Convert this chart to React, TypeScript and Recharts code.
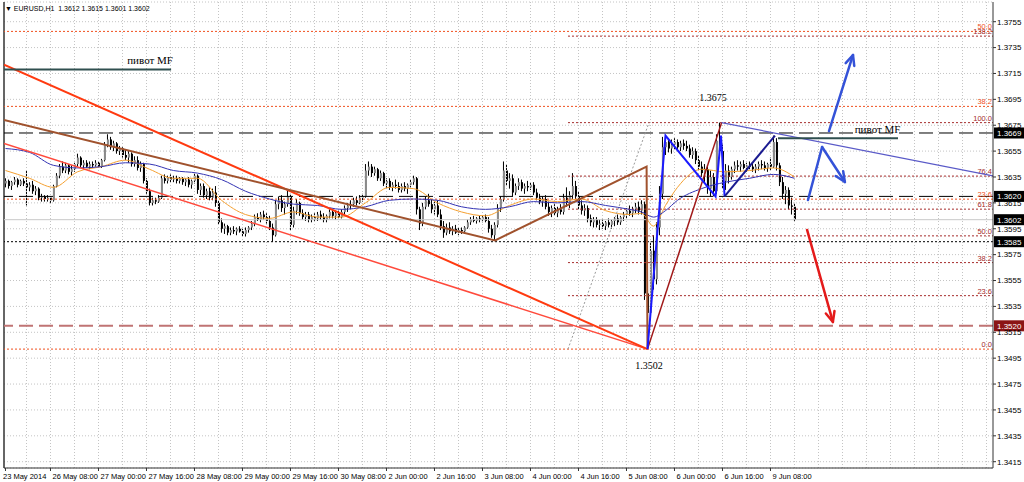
import {
  ComposedChart,
  Bar,
  Line,
  XAxis,
  YAxis,
  CartesianGrid,
  ReferenceLine,
  ReferenceDot,
} from "recharts";

// quotes are written as the last four digits, 3612 -> 1.3612
const P = (v: number) => 1 + v / 10000;

const opens = [
  3630, 3632, 3628, 3631, 3633, 3629, 3632, 3630, 3627, 3629,
  3624, 3626, 3619, 3620, 3618, 3619, 3617, 3628, 3636, 3643,
  3640, 3644, 3639, 3641, 3645, 3650, 3644, 3646, 3643, 3645,
  3644, 3646, 3643, 3648, 3660, 3664, 3658, 3661, 3655, 3657,
  3652, 3650, 3653, 3645, 3648, 3642, 3645, 3632, 3624, 3615,
  3617, 3616, 3619, 3634, 3632, 3635, 3633, 3634, 3632, 3634,
  3631, 3633, 3629, 3632, 3636, 3625, 3628, 3621, 3624, 3619,
  3623, 3615, 3600, 3595, 3597, 3592, 3594, 3593, 3595, 3593,
  3591, 3594, 3596, 3599, 3604, 3602, 3606, 3604, 3601, 3596,
  3590, 3614, 3617, 3611, 3614, 3620, 3598, 3609, 3615, 3607,
  3604, 3606, 3602, 3604, 3603, 3606, 3604, 3602, 3605, 3608,
  3605, 3607, 3604, 3608, 3611, 3613, 3614, 3617, 3615, 3619,
  3620, 3640, 3643, 3638, 3641, 3634, 3638, 3630, 3632, 3627,
  3629, 3628, 3625, 3628, 3626, 3629, 3631, 3634, 3610, 3599,
  3612, 3617, 3614, 3610, 3613, 3606, 3597, 3592, 3596, 3593,
  3595, 3592, 3594, 3593, 3596, 3600, 3602, 3601, 3603, 3602,
  3604, 3601, 3595, 3590, 3598, 3611, 3618, 3640, 3632, 3634,
  3623, 3628, 3631, 3626, 3628, 3627, 3629, 3623, 3619, 3616,
  3618, 3612, 3608, 3611, 3607, 3610, 3608, 3619, 3615, 3621,
  3628, 3620, 3613, 3609, 3611, 3603, 3600, 3602, 3598, 3599,
  3597, 3600, 3598, 3601, 3603, 3600, 3604, 3606, 3609, 3607,
  3610, 3612, 3609, 3614, 3545, 3530, 3578, 3556, 3596, 3622,
  3658, 3662, 3657, 3660, 3662, 3658, 3661, 3659, 3657, 3652,
  3655, 3648, 3643, 3638, 3641, 3626, 3635, 3624, 3663, 3655,
  3632, 3640, 3635, 3641, 3644, 3643, 3645, 3642, 3644, 3643,
  3641, 3643, 3645, 3644, 3642, 3645, 3643, 3662, 3644, 3631,
  3622, 3625, 3613, 3612,
];

const highs = [
  3634, 3633, 3632, 3635, 3634, 3633, 3634, 3640, 3631, 3632,
  3628, 3627, 3622, 3621, 3621, 3620, 3629, 3638, 3645, 3647,
  3646, 3645, 3644, 3646, 3653, 3651, 3648, 3648, 3647, 3647,
  3648, 3647, 3649, 3662, 3668, 3666, 3663, 3662, 3659, 3658,
  3656, 3655, 3654, 3651, 3651, 3647, 3646, 3634, 3626, 3619,
  3619, 3621, 3636, 3637, 3636, 3637, 3636, 3636, 3635, 3635,
  3634, 3635, 3633, 3638, 3637, 3630, 3630, 3626, 3627, 3626,
  3628, 3617, 3603, 3599, 3598, 3596, 3597, 3596, 3597, 3595,
  3596, 3597, 3601, 3606, 3607, 3608, 3609, 3607, 3605, 3599,
  3617, 3620, 3621, 3616, 3625, 3622, 3612, 3618, 3616, 3610,
  3608, 3608, 3606, 3607, 3608, 3609, 3607, 3606, 3610, 3610,
  3609, 3609, 3610, 3613, 3615, 3617, 3619, 3620, 3621, 3622,
  3645, 3647, 3645, 3643, 3642, 3640, 3639, 3634, 3634, 3631,
  3633, 3631, 3630, 3631, 3630, 3633, 3636, 3635, 3612, 3615,
  3620, 3622, 3618, 3616, 3617, 3610, 3601, 3599, 3600, 3597,
  3598, 3596, 3596, 3597, 3602, 3604, 3605, 3604, 3605, 3605,
  3606, 3604, 3598, 3600, 3614, 3620, 3647, 3645, 3638, 3637,
  3630, 3634, 3633, 3630, 3632, 3631, 3631, 3626, 3622, 3620,
  3621, 3616, 3613, 3614, 3612, 3614, 3622, 3627, 3624, 3638,
  3632, 3624, 3617, 3614, 3613, 3606, 3604, 3604, 3602, 3603,
  3601, 3603, 3602, 3604, 3606, 3605, 3608, 3611, 3613, 3612,
  3615, 3616, 3617, 3616, 3560, 3585, 3590, 3600, 3628, 3666,
  3667, 3665, 3664, 3665, 3664, 3663, 3664, 3663, 3660, 3658,
  3657, 3652, 3647, 3645, 3643, 3640, 3638, 3668, 3677, 3660,
  3645, 3644, 3643, 3647, 3648, 3647, 3648, 3646, 3647, 3646,
  3645, 3647, 3648, 3647, 3646, 3650, 3667, 3665, 3646, 3635,
  3628, 3627, 3619, 3615,
];

const lows = [
  3627, 3626, 3625, 3629, 3627, 3628, 3628, 3613, 3624, 3622,
  3621, 3617, 3616, 3616, 3616, 3615, 3616, 3627, 3634, 3638,
  3638, 3637, 3636, 3639, 3643, 3642, 3641, 3642, 3641, 3642,
  3643, 3642, 3642, 3647, 3658, 3656, 3655, 3653, 3652, 3650,
  3648, 3646, 3643, 3643, 3640, 3639, 3630, 3622, 3613, 3613,
  3614, 3615, 3618, 3630, 3630, 3631, 3631, 3630, 3630, 3629,
  3628, 3627, 3626, 3630, 3622, 3621, 3619, 3618, 3617, 3617,
  3612, 3598, 3592, 3591, 3590, 3590, 3591, 3590, 3592, 3589,
  3589, 3592, 3594, 3597, 3601, 3600, 3602, 3599, 3594, 3585,
  3589, 3610, 3608, 3606, 3612, 3594, 3596, 3606, 3605, 3602,
  3601, 3600, 3600, 3601, 3601, 3602, 3600, 3600, 3603, 3603,
  3602, 3603, 3603, 3606, 3608, 3610, 3612, 3613, 3614, 3616,
  3619, 3636, 3635, 3636, 3632, 3632, 3628, 3626, 3625, 3624,
  3626, 3623, 3623, 3624, 3622, 3627, 3629, 3606, 3594, 3597,
  3610, 3612, 3607, 3606, 3604, 3594, 3588, 3590, 3591, 3590,
  3591, 3590, 3591, 3591, 3595, 3598, 3600, 3599, 3600, 3600,
  3600, 3592, 3588, 3586, 3596, 3608, 3616, 3628, 3626, 3620,
  3621, 3625, 3624, 3622, 3624, 3625, 3621, 3617, 3614, 3612,
  3610, 3605, 3604, 3605, 3604, 3606, 3606, 3612, 3611, 3618,
  3618, 3610, 3606, 3605, 3600, 3597, 3596, 3596, 3594, 3595,
  3594, 3596, 3595, 3597, 3598, 3598, 3601, 3603, 3605, 3604,
  3607, 3606, 3606, 3540, 3502, 3526, 3548, 3552, 3590, 3618,
  3652, 3654, 3653, 3656, 3655, 3655, 3656, 3655, 3650, 3649,
  3645, 3640, 3635, 3630, 3622, 3620, 3620, 3622, 3650, 3626,
  3625, 3630, 3633, 3638, 3640, 3639, 3641, 3639, 3641, 3639,
  3638, 3640, 3641, 3640, 3639, 3640, 3642, 3640, 3628, 3618,
  3614, 3610, 3606, 3601,
];

const closes = [
  3632, 3628, 3631, 3633, 3629, 3632, 3630, 3627, 3629, 3624,
  3626, 3619, 3620, 3618, 3619, 3617, 3628, 3636, 3643, 3640,
  3644, 3639, 3641, 3645, 3650, 3644, 3646, 3643, 3645, 3644,
  3646, 3643, 3648, 3660, 3664, 3658, 3661, 3655, 3657, 3652,
  3650, 3653, 3645, 3648, 3642, 3645, 3632, 3624, 3615, 3617,
  3616, 3619, 3634, 3632, 3635, 3633, 3634, 3632, 3634, 3631,
  3633, 3629, 3632, 3636, 3625, 3628, 3621, 3624, 3619, 3623,
  3615, 3600, 3595, 3597, 3592, 3594, 3593, 3595, 3593, 3591,
  3594, 3596, 3599, 3604, 3602, 3606, 3604, 3601, 3596, 3590,
  3614, 3617, 3611, 3614, 3620, 3598, 3609, 3615, 3607, 3604,
  3606, 3602, 3604, 3603, 3606, 3604, 3602, 3605, 3608, 3605,
  3607, 3604, 3608, 3611, 3613, 3614, 3617, 3615, 3619, 3620,
  3640, 3643, 3638, 3641, 3634, 3638, 3630, 3632, 3627, 3629,
  3628, 3625, 3628, 3626, 3629, 3631, 3634, 3610, 3599, 3612,
  3617, 3614, 3610, 3613, 3606, 3597, 3592, 3596, 3593, 3595,
  3592, 3594, 3593, 3596, 3600, 3602, 3601, 3603, 3602, 3604,
  3601, 3595, 3590, 3598, 3611, 3618, 3640, 3632, 3634, 3623,
  3628, 3631, 3626, 3628, 3627, 3629, 3623, 3619, 3616, 3618,
  3612, 3608, 3611, 3607, 3610, 3608, 3619, 3615, 3621, 3628,
  3620, 3613, 3609, 3611, 3603, 3600, 3602, 3598, 3599, 3597,
  3600, 3598, 3601, 3603, 3600, 3604, 3606, 3609, 3607, 3610,
  3612, 3609, 3614, 3545, 3530, 3578, 3556, 3596, 3622, 3658,
  3662, 3657, 3660, 3662, 3658, 3661, 3659, 3657, 3652, 3655,
  3648, 3643, 3638, 3641, 3626, 3635, 3624, 3663, 3655, 3632,
  3640, 3635, 3641, 3644, 3643, 3645, 3642, 3644, 3643, 3641,
  3643, 3645, 3644, 3642, 3645, 3643, 3662, 3644, 3631, 3622,
  3625, 3613, 3612, 3602,
];

// moving averages at these bars
const maBars = [0, 8, 16, 24, 32, 40, 48, 56, 64, 72, 80, 88, 96, 104, 112, 120, 128, 136, 144, 152, 160, 168, 176, 184, 192, 200, 208, 212, 216, 220, 224, 232, 240, 248, 256, 263];
const maFast = [3640, 3634, 3627, 3639, 3643, 3648, 3641, 3634, 3634, 3617, 3606, 3603, 3608, 3604, 3604, 3615, 3627, 3626, 3615, 3608, 3605, 3613, 3618, 3616, 3618, 3609, 3606, 3607, 3597, 3613, 3627, 3641, 3639, 3640, 3642, 3635];
const maSlow = [3657, 3654, 3644, 3642, 3643, 3646, 3645, 3640, 3638, 3633, 3624, 3618, 3614, 3613, 3610, 3612, 3617, 3618, 3617, 3612, 3610, 3612, 3616, 3615, 3616, 3613, 3610, 3608, 3604, 3609, 3617, 3626, 3631, 3634, 3637, 3634];

const xTickBars = [0, 15, 31, 47, 63, 79, 95, 111, 127, 143, 159, 175, 191, 207, 223, 239, 255];
const xTickLabels = [
  "23 May 2014", "26 May 08:00", "27 May 00:00", "27 May 16:00", "28 May 08:00",
  "29 May 00:00", "29 May 16:00", "30 May 08:00", "2 Jun 00:00", "2 Jun 16:00",
  "3 Jun 08:00", "4 Jun 00:00", "4 Jun 16:00", "5 Jun 08:00", "6 Jun 00:00",
  "6 Jun 16:00", "9 Jun 08:00",
];
const yTicks = [
  1.3415, 1.3435, 1.3455, 1.3475, 1.3495, 1.3515, 1.3535, 1.3555, 1.3575,
  1.3595, 1.3615, 1.3635, 1.3655, 1.3675, 1.3695, 1.3715, 1.3735, 1.3755,
];

// fibo grids: swing low / swing high and levels
const fibALow = 1.3502;
const fibAHigh = 1.3993;
const fibALevels = [0, 23.6, 38.2, 50];
const fibBLow = 1.3502;
const fibBHigh = 1.3677;
const fibBLevels = [23.6, 38.2, 50, 61.8, 76.4, 100, 138.2];
const fibBStart = 187.5;

// drawn objects, [bar, price]
const redThick = [[-0.5, 1.37218], [214, 1.3502]];
const redThin = [[-0.5, 1.3661], [214, 1.3502]];
const brownPath = [[-0.5, 1.3679], [163.2, 1.3586], [213.7, 1.3643], [214, 1.3503]];
const maroonLeg = [[214, 1.3502], [238.7, 1.3677]];
const bluePath = [[214, 1.3502], [220, 1.3667], [236.7, 1.362], [238.5, 1.3667], [239.7, 1.362]];
const navyLeg = [[239.7, 1.362], [256.5, 1.3667]];
const slateLine = [[238.7, 1.3677], [329.17, 1.36358]];
const fibTrend = [[fibBStart, 1.3502], [214.5, 1.3677]];
const pivotLeft = [[-0.5, 1.3718], [55.2, 1.3718]];
const pivotRight = [[257.5, 1.3665], [297.5, 1.3665]];
const blueArrowUp = [[274.5, 1.36705], [282.5, 1.37293]];
const blueArrowBounce = [[267.5, 1.36172], [272.2, 1.36582], [279.8, 1.36311]];
const redArrowDown = [[267.2, 1.35941], [275.8, 1.3523]];

const priceBoxes = [
  { v: 1.3669, bg: "#000000" },
  { v: 1.362, bg: "#000000" },
  { v: 1.3602, bg: "#000000" },
  { v: 1.3585, bg: "#000000" },
  { v: 1.352, bg: "#8b1414" },
];

const X_MIN = -0.5;
const X_MAX = 329.17;
const FONT = '"Liberation Sans", Arial, sans-serif';
const SERIF = '"Liberation Serif", "Times New Roman", serif';

const candles = opens.map((o, i) => ({
  i,
  o: P(o),
  h: P(highs[i]),
  l: P(lows[i]),
  c: P(closes[i]),
  range: [P(lows[i]), P(highs[i])],
}));

const toPts = (arr: number[][]) => arr.map(([i, v]) => ({ i, v }));
const maFastPts = maBars.map((i, k) => ({ i, v: P(maFast[k]) }));
const maSlowPts = maBars.map((i, k) => ({ i, v: P(maSlow[k]) }));
const gridBars = Array.from({ length: 41 }, (_, k) => 7 + 8 * k);

function Candle(props: any) {
  const { x, y, width, height, payload } = props;
  if (x == null || !payload) return null;
  const { o, h, l, c } = payload;
  const k = h > l ? height / (h - l) : 0;
  const cx = x + width / 2;
  const yO = y + (h - o) * k;
  const yC = y + (h - c) * k;
  const top = Math.min(yO, yC);
  const bh = Math.max(1, Math.abs(yC - yO));
  return (
    <g>
      <rect x={cx - 0.5} y={y} width={1} height={Math.max(1, height)} fill="#000" />
      <rect x={cx - 0.5} y={top} width={2} height={bh} fill={c >= o ? "#8a8a8a" : "#000"} />
    </g>
  );
}

function XTick(props: any) {
  const { x, y, payload } = props;
  const k = xTickBars.indexOf(payload.value);
  return (
    <text x={k === 0 ? x - 2.5 : x + 2} y={y + 6} fontSize={7.5} fill="#000" fontFamily={FONT}>
      {xTickLabels[k]}
    </text>
  );
}

const fibLabel = (text: string, color: string) => (p: any) => {
  const vb = p.viewBox;
  return (
    <text x={vb.x + vb.width - 1} y={vb.y - 2} textAnchor="end" fontSize={7.5} fill={color} fontFamily={FONT}>
      {text}
    </text>
  );
};

const boxLabel = (v: number, bg: string) => (p: any) => {
  const vb = p.viewBox;
  const x0 = vb.x + vb.width + 1;
  return (
    <g>
      <rect x={x0} y={vb.y - 5.5} width={30} height={11} fill={bg} />
      <text x={x0 + 3} y={vb.y + 3} fontSize={8} fill="#fff" fontFamily={FONT}>
        {v.toFixed(4)}
      </text>
    </g>
  );
};

const textLabel = (text: string, size: number) => (p: any) => {
  const vb = p.viewBox;
  return (
    <text x={vb.x + vb.width / 2} y={vb.y + vb.height / 2 + size * 0.35} textAnchor="middle" fontSize={size} fill="#000" fontFamily={SERIF}>
      {text}
    </text>
  );
};

const arrowShape = (color: string, head: boolean) => (p: any) => {
  const { x1, y1, x2, y2 } = p;
  if (x1 == null) return null;
  const a = Math.atan2(y2 - y1, x2 - x1);
  const L = 11;
  const s = 0.42;
  const ax = x2 - L * Math.cos(a - s);
  const ay = y2 - L * Math.sin(a - s);
  const bx = x2 - L * Math.cos(a + s);
  const by = y2 - L * Math.sin(a + s);
  return (
    <g>
      <line x1={x1} y1={y1} x2={x2} y2={y2} stroke={color} strokeWidth={2.5} strokeLinecap="round" />
      {head && (
        <polyline
          points={`${ax},${ay} ${x2},${y2} ${bx},${by}`}
          fill="none"
          stroke={color}
          strokeWidth={2.5}
          strokeLinecap="round"
          strokeLinejoin="round"
        />
      )}
    </g>
  );
};

const arrowSegments = (pts: number[][], color: string, key: string) =>
  pts.slice(1).map((pt, k) => (
    <ReferenceLine
      key={`${key}${k}`}
      segment={[
        { x: pts[k][0], y: pts[k][1] },
        { x: pt[0], y: pt[1] },
      ]}
      shape={arrowShape(color, k === pts.length - 2)}
    />
  ));

const trend = (pts: number[][], color: string, width: number, dash?: string) => (
  <Line
    data={toPts(pts)}
    dataKey="v"
    type="linear"
    stroke={color}
    strokeWidth={width}
    strokeDasharray={dash}
    dot={false}
    activeDot={false}
    isAnimationActive={false}
  />
);

export default function App() {
  return (
    <div style={{ position: "fixed", left: 0, top: 0, width: 1024, height: 482, background: "#fff" }}>
      <ComposedChart
        width={1024}
        height={482}
        data={candles}
        margin={{ top: 2, right: 0, bottom: 0, left: 4 }}
        style={{ fontFamily: FONT }}
      >
        <CartesianGrid vertical={false} stroke="#c4c4c4" strokeDasharray="1 2" />
        {gridBars.map((g) => (
          <ReferenceLine key={`g${g}`} x={g} stroke="#c4c4c4" strokeDasharray="1 2" />
        ))}
        <XAxis
          dataKey="i"
          type="number"
          domain={[X_MIN, X_MAX]}
          allowDataOverflow
          ticks={xTickBars}
          tick={<XTick />}
          tickSize={3}
          height={14}
          axisLine={{ stroke: "#333" }}
          tickLine={{ stroke: "#333" }}
        />
        <YAxis
          orientation="right"
          type="number"
          domain={[1.341013, 1.377022]}
          allowDataOverflow
          ticks={yTicks}
          tickFormatter={(v: number) => v.toFixed(4)}
          tick={{ fontSize: 8, fill: "#000", fontFamily: FONT }}
          tickSize={3}
          tickMargin={1}
          width={31}
          axisLine={{ stroke: "#333" }}
          tickLine={{ stroke: "#333" }}
        />
        <ReferenceLine x={X_MIN} stroke="#333" strokeWidth={1.5} />

        {/* horizontal levels */}
        <ReferenceLine y={1.3602} stroke="#c8c8c8" />
        <ReferenceLine y={1.3669} stroke="#000" strokeDasharray="14 6" />
        <ReferenceLine y={1.362} stroke="#000" strokeDasharray="14 6" />
        <ReferenceLine y={1.3585} stroke="#000" strokeDasharray="2 2" />
        <ReferenceLine y={1.352} stroke="#c07474" strokeWidth={2} strokeDasharray="14 6" />

        {/* fibo A, full width */}
        {fibALevels.map((lv) => (
          <ReferenceLine
            key={`fa${lv}`}
            y={fibALow + ((fibAHigh - fibALow) * lv) / 100}
            stroke="#f0501e"
            strokeDasharray="2 2"
            label={fibLabel(lv.toFixed(1), lv === 0 ? "#a02828" : "#f0501e")}
          />
        ))}
        {/* fibo B, from anchor to the right */}
        {fibBLevels.map((lv) => {
          const y = fibBLow + ((fibBHigh - fibBLow) * lv) / 100;
          return (
            <ReferenceLine
              key={`fb${lv}`}
              segment={[
                { x: fibBStart, y },
                { x: X_MAX, y },
              ]}
              stroke="#a52a2a"
              strokeDasharray="2 2"
              label={fibLabel(lv.toFixed(1), "#a52a2a")}
            />
          );
        })}

        <Bar dataKey="range" barSize={3} shape={Candle} isAnimationActive={false} />

        <Line data={maFastPts} dataKey="v" type="monotone" stroke="#f5a030" strokeWidth={1} dot={false} activeDot={false} isAnimationActive={false} />
        <Line data={maSlowPts} dataKey="v" type="monotone" stroke="#3434b4" strokeWidth={1} dot={false} activeDot={false} isAnimationActive={false} />

        {trend(fibTrend, "#9a9a9a", 1, "2 2")}
        {trend(redThin, "#ff4a3c", 1.5)}
        {trend(redThick, "#ff3a10", 2)}
        {trend(brownPath, "#a0522d", 2)}
        {trend(maroonLeg, "#a01818", 1.5)}
        {trend(slateLine, "#5a5ac8", 1.2)}
        {trend(bluePath, "#1a1aff", 2)}
        {trend(navyLeg, "#1a1a90", 2)}
        {trend(pivotLeft, "#2f4f4f", 2)}
        {trend(pivotRight, "#2f4f4f", 2)}

        {arrowSegments(blueArrowUp, "#3452d8", "au")}
        {arrowSegments(blueArrowBounce, "#3452d8", "ab")}
        {arrowSegments(redArrowDown, "#e41a1a", "ad")}

        <ReferenceDot x={48.2} y={1.37254} r={0} stroke="none" fill="none" label={textLabel("пивот MF", 11)} />
        <ReferenceDot x={290.7} y={1.3672} r={0} stroke="none" fill="none" label={textLabel("пивот MF", 11)} />
        <ReferenceDot x={235.8} y={1.36968} r={0} stroke="none" fill="none" label={textLabel("1.3675", 10)} />
        <ReferenceDot x={214.5} y={1.3489} r={0} stroke="none" fill="none" label={textLabel("1.3502", 10)} />

        {priceBoxes.map((b) => (
          <ReferenceLine key={`pb${b.v}`} y={b.v} stroke="none" label={boxLabel(b.v, b.bg)} />
        ))}
      </ComposedChart>
      <div
        style={{
          position: "absolute",
          left: 5,
          top: 4,
          fontSize: 7,
          fontFamily: FONT,
          color: "#000",
          whiteSpace: "pre",
          lineHeight: "10px",
        }}
      >
        {"▼ EURUSD,H1  1.3612 1.3615 1.3601 1.3602"}
      </div>
    </div>
  );
}
